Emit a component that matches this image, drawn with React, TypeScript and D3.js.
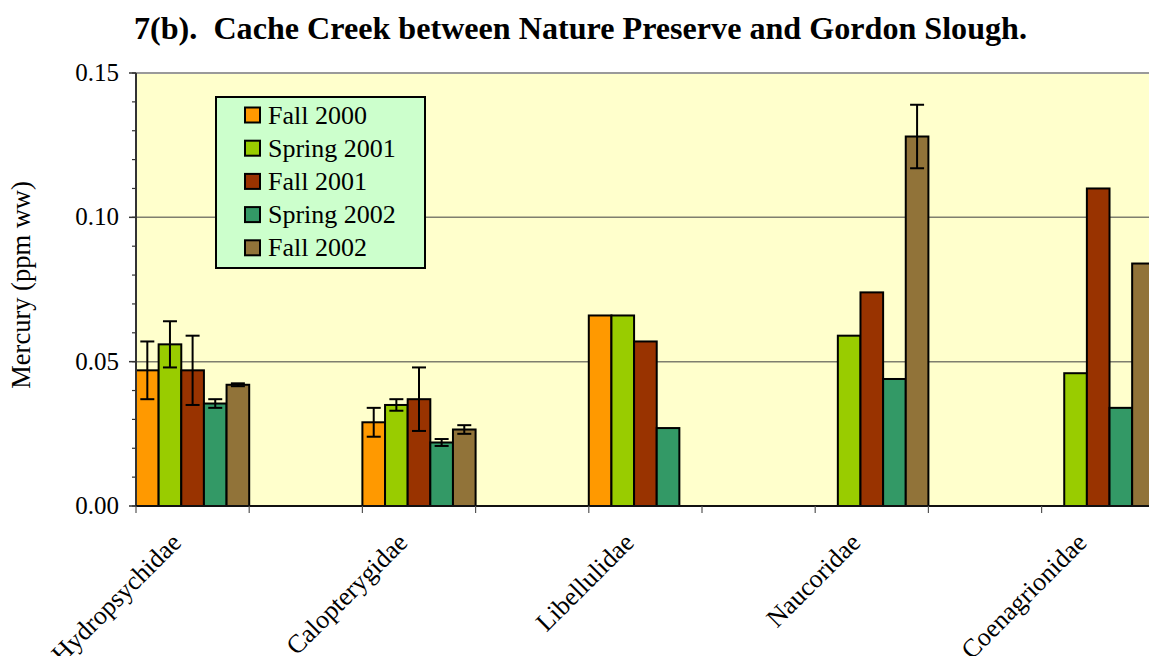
import React from "react";
import * as d3 from "d3";

const categories = ["Hydropsychidae", "Calopterygidae", "Libellulidae", "Naucoridae", "Coenagrionidae"];
const seriesNames = ["Fall 2000", "Spring 2001", "Fall 2001", "Spring 2002", "Fall 2002"];
const seriesColors = ["#FF9900", "#99CC00", "#993300", "#339966", "#917339"];

const fall2000 = [0.047, 0.029, 0.066, null, null];
const spring2001 = [0.056, 0.035, 0.066, 0.059, 0.046];
const fall2001 = [0.047, 0.037, 0.057, 0.074, 0.11];
const spring2002 = [0.0355, 0.022, 0.027, 0.044, 0.034];
const fall2002 = [0.042, 0.0265, null, 0.128, 0.084];

const fall2000Err = [0.01, 0.005, 0, 0, 0];
const spring2001Err = [0.008, 0.002, 0, 0, 0];
const fall2001Err = [0.012, 0.011, 0, 0, 0];
const spring2002Err = [0.0015, 0.0012, 0, 0, 0];
const fall2002Err = [0.0005, 0.0015, 0, 0.011, 0];

const yTicks = [0, 0.05, 0.1, 0.15];
const yMinorTicks = d3.range(0, 0.1501, 0.01);

const titleText = "7(b).  Cache Creek between Nature Preserve and Gordon Slough.";
const yLabel = "Mercury (ppm ww)";

const values = [fall2000, spring2001, fall2001, spring2002, fall2002];
const errors = [fall2000Err, spring2001Err, fall2001Err, spring2002Err, fall2002Err];

const serif = "Liberation Serif, Times New Roman, serif";
const txt = (size: number, extra: any = {}) => ({ fontFamily: serif, fontSize: size, ...extra });

export default function App() {
  const W = 1149;
  const H = 656;
  const left = 136;
  const top = 73;
  const bottom = 506;
  const catStep = 226.4;
  const right = left + catStep * categories.length;

  const x = d3.scaleBand<string>().domain(categories).range([left, right]).padding(0);
  const xs = d3.scaleBand<string>().domain(seriesNames).range([0, x.bandwidth() / 2]).padding(0);
  const y = d3.scaleLinear().domain([0, 0.15]).range([bottom, top]);

  const tickXs: number[] = [];
  categories.forEach((c) => {
    tickXs.push(x(c)!);
    tickXs.push(x(c)! + x.bandwidth() / 2);
  });
  tickXs.push(right);

  return (
    <svg
      width={W}
      height={H}
      style={{ position: "absolute", left: 0, top: 0, display: "block", background: "#fff" }}
    >
      <text
        x={580.5}
        y={39}
        textAnchor="middle"
        textLength={893}
        lengthAdjust="spacingAndGlyphs"
        style={txt(31, { fontWeight: "bold", whiteSpace: "pre" })}
      >
        {titleText}
      </text>

      <rect x={left} y={top} width={right - left} height={bottom - top} fill="#FFFFCC" />

      {yTicks.filter((t) => t > 0 && t < 0.15).map((t) => (
        <line key={"g" + t} x1={left} x2={right} y1={y(t)} y2={y(t)} stroke="#7f7f6f" strokeWidth={1.5} />
      ))}
      <line x1={left} x2={right} y1={top} y2={top} stroke="#9a9a9a" strokeWidth={2} />

      {seriesNames.map((s, si) =>
        categories.map((c, ci) => {
          const v = values[si][ci];
          if (v == null) return null;
          const bx = x(c)! + xs(s)!;
          return (
            <rect
              key={s + c}
              x={bx}
              y={y(v)}
              width={xs.bandwidth()}
              height={bottom - y(v)}
              fill={seriesColors[si]}
              stroke="#000"
              strokeWidth={2}
            />
          );
        })
      )}

      {seriesNames.map((s, si) =>
        categories.map((c, ci) => {
          const v = values[si][ci];
          const e = errors[si][ci];
          if (v == null || !e) return null;
          const cx = x(c)! + xs(s)! + xs.bandwidth() / 2;
          const y1 = y(v + e);
          const y2 = y(v - e);
          return (
            <g key={"e" + s + c} stroke="#000" strokeWidth={2}>
              <line x1={cx} x2={cx} y1={y1} y2={y2} />
              <line x1={cx - 7} x2={cx + 7} y1={y1} y2={y1} />
              <line x1={cx - 7} x2={cx + 7} y1={y2} y2={y2} />
            </g>
          );
        })
      )}

      <line x1={left} x2={left} y1={top} y2={bottom} stroke="#333" strokeWidth={2} />
      <line x1={left} x2={right} y1={bottom} y2={bottom} stroke="#111" strokeWidth={2} />

      {yMinorTicks.map((t) => (
        <line key={"m" + t} x1={left - 4} x2={left} y1={y(t)} y2={y(t)} stroke="#333" strokeWidth={1.2} />
      ))}
      {yTicks.map((t) => (
        <g key={"t" + t}>
          <line x1={left - 7} x2={left} y1={y(t)} y2={y(t)} stroke="#333" strokeWidth={1.5} />
          <text x={119} y={y(t) + 8} textAnchor="end" style={txt(25)}>
            {d3.format(".2f")(t)}
          </text>
        </g>
      ))}

      {tickXs.map((tx, i) => (
        <line key={"xt" + i} x1={tx} x2={tx} y1={bottom} y2={bottom + 7} stroke="#555" strokeWidth={1.2} />
      ))}

      {categories.map((c) => {
        const cx = x(c)! + x.bandwidth() / 4 - 10;
        return (
          <text key={"l" + c} transform={`translate(${cx},${544}) rotate(-45)`} textAnchor="end" style={txt(26)}>
            {c}
          </text>
        );
      })}

      <text transform={`translate(${30},${285}) rotate(-90)`} textAnchor="middle" style={txt(26.5)}>
        {yLabel}
      </text>

      <g>
        <rect x={216} y={97} width={209} height={171} fill="#CCFFCC" stroke="#000" strokeWidth={2} />
        {seriesNames.map((s, i) => {
          const cy = 115 + i * 33.2;
          return (
            <g key={"lg" + s}>
              <rect x={245} y={cy - 7.5} width={15} height={15} fill={seriesColors[i]} stroke="#000" strokeWidth={2} />
              <text x={268} y={cy + 8.5} style={txt(26)}>
                {s}
              </text>
            </g>
          );
        })}
      </g>
    </svg>
  );
}
